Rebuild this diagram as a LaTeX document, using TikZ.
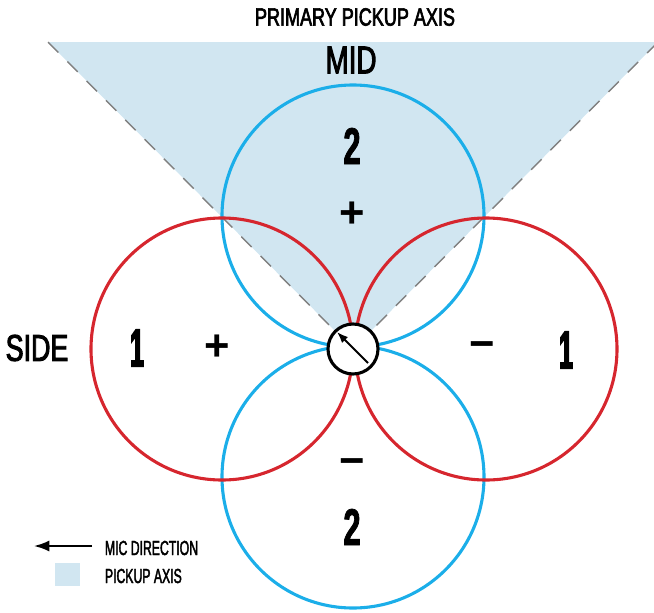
\documentclass[tikz,border=0pt]{standalone}
\usepackage{fontspec}
\setmainfont{Liberation Sans}[FakeStretch=0.72, FakeBold=2.5]
\newfontfamily\digitfont{Liberation Sans}[FakeStretch=0.6, FakeBold=1.5]
\newfontfamily\onefont{Liberation Sans}[FakeStretch=0.45, FakeBold=3]
\newfontfamily\signfont{Liberation Sans}
\newfontfamily\keyfont{Liberation Sans}[FakeStretch=0.6, FakeBold=2]
\usetikzlibrary{arrows.meta}

\definecolor{lobeblue}{RGB}{27,174,233}
\definecolor{lobered}{RGB}{214,38,46}
\definecolor{axisfill}{RGB}{209,230,241}
\definecolor{axisline}{RGB}{128,128,128}

\begin{document}
\begin{tikzpicture}[x=0.025cm, y=-0.025cm,
  lobe/.style={line width=2.2pt},
  digit/.style={font=\digitfont\bfseries\fontsize{36.8}{40}\selectfont},
  one/.style={font=\onefont\bfseries\fontsize{38}{40}\selectfont},
  sign/.style={font=\signfont\bfseries\fontsize{31}{34}\selectfont},
  legend/.style={font=\keyfont\fontsize{14.5}{16}\selectfont, anchor=west}]
\useasboundingbox (0,0) rectangle (654,613);
\clip (0,0) rectangle (654,613);
\def\pickupAxis{(48,42) -- (658,42) -- (353,349) -- cycle}
\def\lobeMidPlus{(353,216) circle (131)}
\def\lobeMidMinus{(353,477) circle (131)}
\def\lobeSidePlus{(222,349) circle (131)}
\def\lobeSideMinus{(486,349) circle (131)}
%
\fill[axisfill] \pickupAxis;
\draw[axisline, line width=1pt, dash pattern=on 10.5pt off 9pt] (48,42) -- (353,349) -- (658,42);
%
\draw[lobe, lobeblue] \lobeMidPlus;
\draw[lobe, lobeblue] \lobeMidMinus;
\draw[lobe, lobered] \lobeSidePlus;
\draw[lobe, lobered] \lobeSideMinus;
%
% capsule et direction
\node[circle, draw, line width=2.2pt, fill=white, minimum size=50*0.025cm, inner sep=0] (mic) at (353,349) {};
\coordinate (micTail) at (368,363);
\coordinate (micHead) at (337,332);
\draw[line width=1.4pt, -{Latex[length=8pt, width=6pt]}] (micTail) -- (micHead);
%
% Etiquettes :
\node[font=\fontsize{17.8}{20}\selectfont] (primary) at (355,17) {PRIMARY PICKUP AXIS};
\node[font=\fontsize{27.5}{30}\selectfont] (mid) at (351,60) {MID};
\node[font=\fontsize{26.5}{30}\selectfont] (side) at (37,348) {SIDE};
\node[digit] (midPlusNum) at (352,146) {2};
\node[sign] (midPlusSign) at (352,215) {+};
\node[one] (sidePlusNum) at (137,348) {1};
\node[sign] (sidePlusSign) at (217,348) {+};
\node[sign] (sideMinusSign) at (482,350) {−};
\node[one] (sideMinusNum) at (566,350) {1};
\node[sign] (midMinusSign) at (352,467) {−};
\node[digit] (midMinusNum) at (352,527) {2};
%
% Legende :
\coordinate (keyTail) at (92,546);
\coordinate (keyHead) at (34,546);
\draw[line width=1.4pt, -{Latex[length=11pt, width=8pt]}] (keyTail) -- (keyHead);
\node[legend] (keyDirection) at (100,548) {MIC DIRECTION};
\fill[axisfill] (55,563) rectangle (80,586);
\node[legend] (keyAxis) at (100,576) {PICKUP AXIS};
\end{tikzpicture}
\end{document}
